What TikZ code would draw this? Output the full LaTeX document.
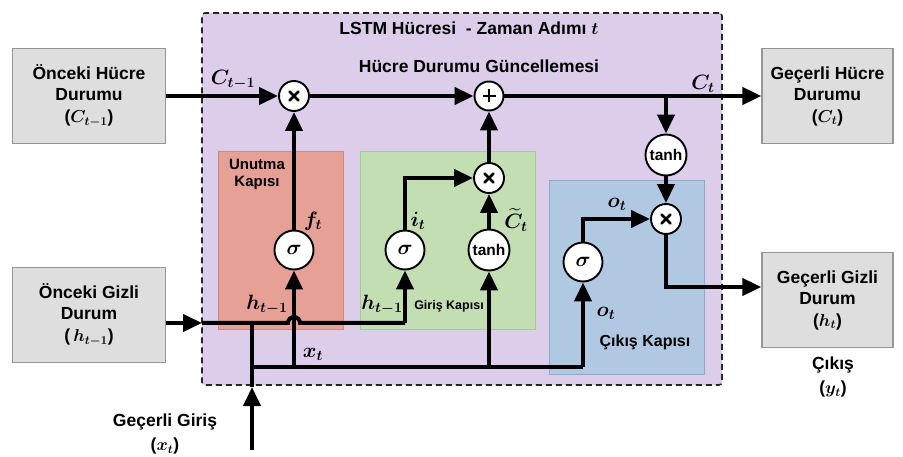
\documentclass[tikz,border=0pt]{standalone}
\usepackage{amsmath}
\usepackage{fontspec}
\setmainfont{Liberation Sans}
\usetikzlibrary{arrows.meta}
\definecolor{cellfill}{RGB}{220,205,235}
\definecolor{forgetfill}{RGB}{230,160,150}
\definecolor{forgetline}{RGB}{210,134,124}
\definecolor{inputfill}{RGB}{196,222,180}
\definecolor{inputline}{RGB}{168,200,150}
\definecolor{outputfill}{RGB}{176,200,226}
\definecolor{outputline}{RGB}{140,170,205}
\definecolor{iofill}{RGB}{222,222,222}
\definecolor{ioline}{RGB}{150,150,150}
\tikzset{
  iobox/.style={draw=ioline, line width=1.3pt, fill=iofill, minimum width=153, minimum height=95,
    align=center, font=\bfseries\fontsize{17.5}{21}\selectfont\boldmath, inner sep=0pt},
  gatebox/.style={line width=1pt, inner sep=0pt},
  op/.style={circle, draw=black, line width=1.9pt, fill=white, inner sep=0pt},
  flow/.style={line width=4pt, line join=miter},
  arr/.style={flow, -{Triangle[length=19pt,width=17pt]}},
  lbl/.style={font=\bfseries\fontsize{20}{22}\selectfont\boldmath, inner sep=0pt},
  title/.style={font=\bfseries\fontsize{17.5}{20}\selectfont\boldmath, inner sep=0pt},
  % multiply and add signs drawn as strokes
  times/.style={op, minimum size=30, path picture={
    \draw[line width=2.8pt, line cap=round] (path picture bounding box.center) ++(-4.5,-4.5) -- ++(9,9);
    \draw[line width=2.8pt, line cap=round] (path picture bounding box.center) ++(-4.5,4.5) -- ++(9,-9);}},
  plus/.style={op, minimum size=29, path picture={
    \draw[line width=2.6pt] (path picture bounding box.center) ++(-6.5,0) -- ++(13,0);
    \draw[line width=2.6pt] (path picture bounding box.center) ++(0,-6.5) -- ++(0,13);}},
  optanh/.style={op, minimum size=41, font=\bfseries\fontsize{15.5}{15.5}\selectfont},
  opsig/.style={op, minimum size=39, font=\fontsize{22}{22}\selectfont\boldmath},
}
\begin{document}
\begin{tikzpicture}[x=1pt,y=-1pt]
\useasboundingbox (0,0) rectangle (903,457);

% cell frame and gate regions
\node[draw=black!85, dash pattern=on 6pt off 4pt, line width=1.6pt, fill=cellfill, rounded corners=3pt,
      minimum width=520, minimum height=372, inner sep=0pt] (cell) at (462,199) {};
\node[gatebox, draw=forgetline, fill=forgetfill, minimum width=125, minimum height=178] (fgate) at (280.5,241) {};
\node[gatebox, draw=inputline, fill=inputfill, minimum width=175, minimum height=178] (igate) at (447.5,241) {};
\node[gatebox, draw=outputline, fill=outputfill, minimum width=155, minimum height=193] (ogate) at (626.5,277.5) {};

\node[title] (celltitle) at (469,28) {LSTM Hücresi\ \ - Zaman Adımı $t$};
\node[title] (update) at (479,66) {Hücre Durumu Güncellemesi};
\node[font=\bfseries\fontsize{15}{17}\selectfont, align=center, inner sep=0pt] (fname) at (257,174) {Unutma\\Kapısı};
\node[font=\bfseries\fontsize{12.5}{14}\selectfont, inner sep=0pt] (iname) at (449,306) {Giriş Kapısı};
\node[font=\bfseries\fontsize{16}{18}\selectfont, inner sep=0pt] (oname) at (645,342) {Çıkış Kapısı};

% inputs and outputs
\node[iobox] (prevC) at (89,96) {Önceki Hücre\\Durumu\\[1pt]($C_{t-1}$)};
\node[iobox] (prevH) at (89,315) {Önceki Gizli\\Durum\\[1pt]($\,h_{t-1}$)};
\node[iobox, minimum width=131] (curC) at (827.5,96) {Geçerli Hücre\\Durumu\\[1pt]($C_t$)};
\node[iobox, minimum width=131] (curH) at (827.5,300) {Geçerli Gizli\\Durum\\[1pt]($h_t$)};
\node[font=\bfseries\fontsize{17.5}{24}\selectfont\boldmath, align=center, inner sep=0pt] (yout) at (833,377) {Çıkış\\($y_t$)};
\node[font=\bfseries\fontsize{17.5}{24}\selectfont\boldmath, align=center, inner sep=0pt] (xin) at (165,434) {Geçerli Giriş\\($x_t$)};

% operators
\node[times] (mulF) at (294,96) {};
\node[plus] (add) at (489,96) {};
\node[optanh] (tanhC) at (666,155) {tanh};
\node[times] (mulO) at (666,219) {};
\node[times] (mulI) at (489,178) {};
\node[opsig] (sigF) at (294,250) {$\sigma$};
\node[opsig] (sigI) at (405,250) {$\sigma$};
\node[optanh] (tanhI) at (489,250) {tanh};
\node[opsig] (sigO) at (583,262) {$\sigma$};

% junction points
\coordinate (split) at (666,96);
\coordinate (hin) at (202,323);
\coordinate (hjoin) at (252,323);
\coordinate (bump) at (288,323);
\coordinate (hturn) at (405,323);
\coordinate (xfoot) at (252,450);
\coordinate (xtip) at (252,387);
\coordinate (xrow) at (252,367);
\coordinate (xF) at (294,367);
\coordinate (xI) at (489,367);
\coordinate (xO) at (583,367);
\coordinate (hturnO) at (666,287);

% cell state path
\draw[arr] (prevC.east) -- (mulF);
\draw[arr] (mulF) -- (add);
\draw[arr] (add) -- (curC.west);
\draw[arr] (split) -- (tanhC);
\draw[arr] (tanhC) -- (mulO);

% gate outputs
\draw[arr] (sigF) -- (mulF);
\draw[arr] (sigI.north) |- (mulI);
\draw[arr] (tanhI) -- (mulI);
\draw[arr] (mulI) -- (add);
\draw[arr] (sigO.north) |- (mulO.west);
\draw[arr] (mulO.south) |- (curH.west |- hturnO);

% previous hidden state, hopping over the input branch
\draw[arr] (prevH.east |- hin) -- (hin);
\draw[flow] (hin) -- (bump) arc (180:360:6) -- (hturn);
\draw[arr] (hturn) -- (sigI.south);

% current input
\draw[arr] (xfoot) -- (xtip);
\draw[flow] (xtip) -- (hjoin);
\draw[flow] (xrow) -- (xO);
\draw[arr] (xO) -- (sigO.south);
\draw[arr] (xF) -- (sigF.south);
\draw[arr] (xI) -- (tanhI.south);

% signal labels
\node[lbl] (lC1) at (233,80) {$C_{t-1}$};
\node[lbl] (lC) at (703,84) {$C_t$};
\node[lbl] (lf) at (313,221) {$f_t$};
\node[lbl] (li) at (418,221) {$i_t$};
\node[lbl] (lct) at (516,220) {$\widetilde{C}_t$};
\node[lbl] (lx) at (313,354) {$x_t$};
\node[lbl] (lh1) at (267,305) {$h_{t-1}$};
\node[lbl] (lh2) at (382,305) {$h_{t-1}$};
\node[lbl] (lo1) at (617,204) {$o_t$};
\node[lbl] (lo2) at (606,313) {$o_t$};
\end{tikzpicture}
\end{document}
